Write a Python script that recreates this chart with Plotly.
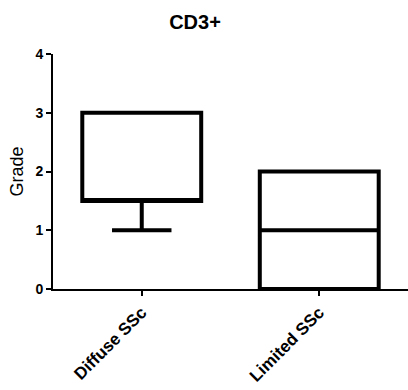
import plotly.graph_objects as go

categories = ["Diffuse SSc", "Limited SSc"]
q1 = [1.5, 0]
median = [1.5, 1]
q3 = [3, 2]
lowerfence = [1, 0]
upperfence = [3, 2]
y_ticks = [0, 1, 2, 3, 4]

fig = go.Figure()
fig.add_trace(go.Box(
    x=categories, q1=q1, median=median, q3=q3,
    lowerfence=lowerfence, upperfence=upperfence,
    fillcolor="white", line=dict(color="black", width=4),
    whiskerwidth=0.5, width=0.67, boxpoints=False, showlegend=False,
    hoverinfo="skip",
))

font = "Liberation Sans, Arial, sans-serif"
fig.update_layout(
    width=408, height=390,
    margin=dict(l=53, r=0, t=54, b=101),
    plot_bgcolor="white", paper_bgcolor="white",
    title=dict(text="<b>CD3+</b>", x=0.478, xanchor="center", y=0.944, yanchor="middle",
               font=dict(family=font, size=20, color="black")),
    xaxis=dict(type="category", range=[-0.5, 1.5], showline=True, linecolor="black", linewidth=2,
               ticks="outside", ticklen=5, tickwidth=2, tickcolor="black", tickangle=-45,
               tickfont=dict(family=font, size=17, color="black", weight="bold"),
               showgrid=False, zeroline=False),
    yaxis=dict(range=[0, 4], tickvals=y_ticks, showline=True, linecolor="black", linewidth=2,
               ticks="outside", ticklen=5, tickwidth=2, tickcolor="black",
               tickfont=dict(family=font, size=14, color="black", weight="bold"),
               showgrid=False, zeroline=False,
               title=dict(text="Grade", font=dict(family=font, size=18, color="black"), standoff=7)),
)

fig.write_html("out.html")
